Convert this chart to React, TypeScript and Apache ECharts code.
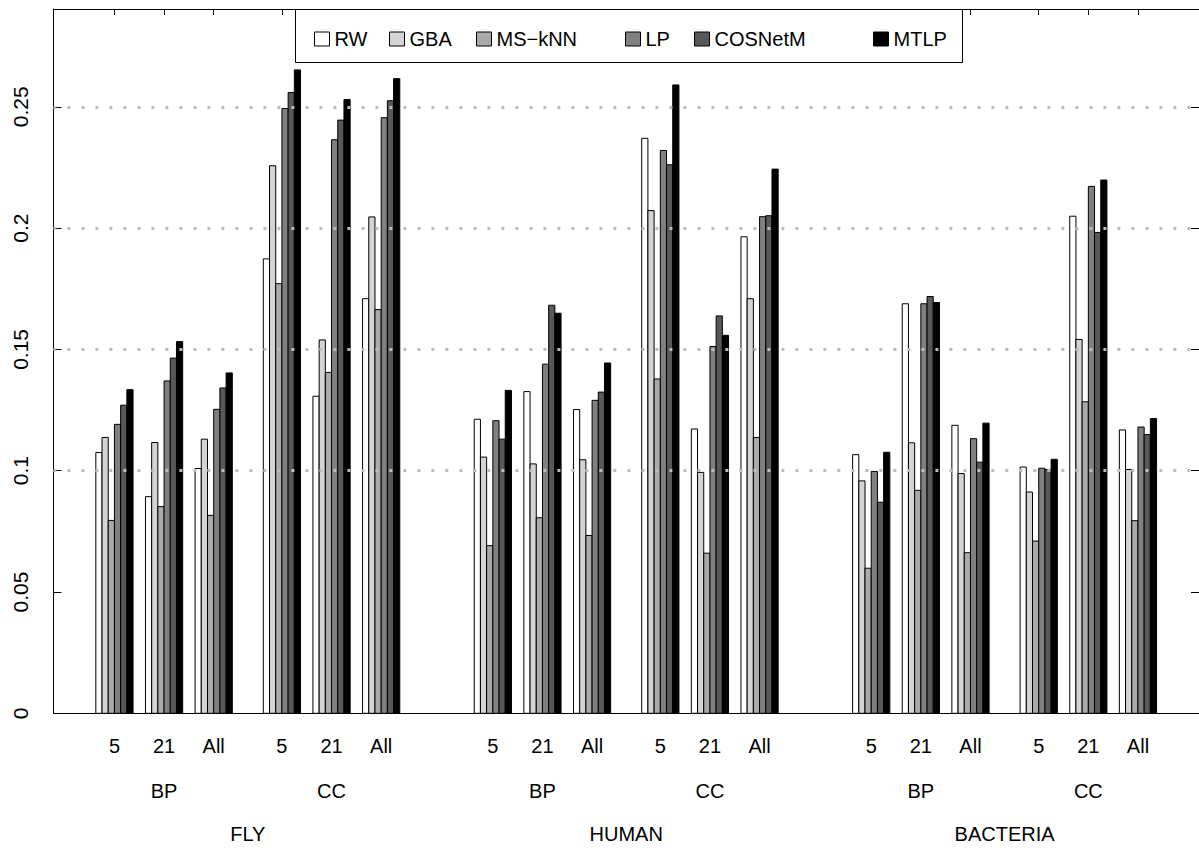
import React, { useEffect, useRef } from "react";
import * as echarts from "echarts";

const organisms = ["FLY", "HUMAN", "BACTERIA"];
const ontologies = ["BP", "CC"];
const subsets = ["5", "21", "All"];
const methods = ["RW", "GBA", "MS\u2212kNN", "LP", "COSNetM", "MTLP"];

// order: FLY BP(5,21,All) CC(5,21,All), HUMAN BP.. CC.., BACTERIA BP.. CC..
const RW = [0.1075, 0.0893, 0.1009, 0.1873, 0.1307, 0.1709, 0.1212, 0.1326, 0.1252, 0.2370, 0.1172, 0.1964, 0.1066, 0.1688, 0.1187, 0.1015, 0.2049, 0.1168];
const GBA = [0.1137, 0.1116, 0.1130, 0.2257, 0.1539, 0.2046, 0.1056, 0.1028, 0.1045, 0.2072, 0.0993, 0.1709, 0.0958, 0.1115, 0.0988, 0.0912, 0.1541, 0.1005];
const MSKNN = [0.0795, 0.0852, 0.0816, 0.1771, 0.1405, 0.1664, 0.0691, 0.0806, 0.0733, 0.1378, 0.0660, 0.1137, 0.0598, 0.0919, 0.0662, 0.0710, 0.1284, 0.0794];
const LP = [0.1191, 0.1370, 0.1253, 0.2493, 0.2364, 0.2455, 0.1206, 0.1439, 0.1290, 0.2320, 0.1512, 0.2047, 0.0997, 0.1688, 0.1132, 0.1010, 0.2172, 0.1180];
const COSNETM = [0.1270, 0.1464, 0.1341, 0.2559, 0.2445, 0.2525, 0.1130, 0.1682, 0.1324, 0.2261, 0.1638, 0.2051, 0.0870, 0.1718, 0.1035, 0.1005, 0.1982, 0.1149];
const MTLP = [0.1334, 0.1532, 0.1403, 0.2652, 0.2530, 0.2616, 0.1331, 0.1649, 0.1444, 0.2590, 0.1558, 0.2243, 0.1076, 0.1693, 0.1196, 0.1047, 0.2198, 0.1215];
const seriesValues = [RW, GBA, MSKNN, LP, COSNETM, MTLP];

const yTicks = [0, 0.05, 0.1, 0.15, 0.2, 0.25];
const gridValues = [0.1, 0.15, 0.2, 0.25];

const colors = ["#ffffff", "#d4d4d4", "#aaaaaa", "#808080", "#585858", "#000000"];
const legendLefts = [314, 389, 476, 625, 694, 873];
const FONT = "Liberation Sans, Arial, Helvetica, sans-serif";

// layout in bar-width units
const NM = methods.length;
const GAP_SUB = 2;
const GAP_ONT = 5;
const GAP_ORG = 12;
const SUB_W = NM + GAP_SUB;
const ONT_W = subsets.length * NM + (subsets.length - 1) * GAP_SUB + GAP_ONT;
const ORG_W = ontologies.length * ONT_W - GAP_ONT + GAP_ORG;

const subStart = (k: number) => {
  const s = k % 3;
  const t = Math.floor(k / 3) % 2;
  const o = Math.floor(k / 6);
  return o * ORG_W + t * ONT_W + s * SUB_W;
};
const totalSpan = (organisms.length - 1) * ORG_W + ORG_W - GAP_ORG;
const pad = totalSpan * 0.04;
const X_MIN = -pad;
const X_MAX = totalSpan + pad;

const subCenters: number[] = [];
const subLabels: string[] = [];
const ontCenters: number[] = [];
const ontLabels: string[] = [];
const orgCenters: number[] = [];
const orgLabels: string[] = [];
organisms.forEach((org, o) => {
  orgCenters.push(o * ORG_W + (ORG_W - GAP_ORG) / 2);
  orgLabels.push(org);
  ontologies.forEach((ont, t) => {
    const k0 = o * 6 + t * 3;
    ontCenters.push(subStart(k0) + (subsets.length * NM + (subsets.length - 1) * GAP_SUB) / 2);
    ontLabels.push(ont);
    subsets.forEach((sub, s) => {
      subCenters.push(subStart(k0 + s) + NM / 2);
      subLabels.push(sub);
    });
  });
});

const nearest = (centers: number[], labels: string[]) => (v: number) => {
  let bi = 0;
  let bd = Infinity;
  centers.forEach((c, i) => {
    const d = Math.abs(c - v);
    if (d < bd) {
      bd = d;
      bi = i;
    }
  });
  return labels[bi];
};

export default function App() {
  const ref = useRef<HTMLDivElement>(null);
  useEffect(() => {
    if (!ref.current) return;
    const chart = echarts.init(ref.current, null, { renderer: "svg" });
    const labelBase = { color: "#000", fontFamily: FONT, fontSize: 20, lineHeight: 20 };
    const series: any[] = methods.map((name, m) => ({
      type: "custom",
      name,
      xAxisIndex: 0,
      yAxisIndex: 0,
      encode: { x: 0, y: 1 },
      itemStyle: { color: colors[m], borderColor: "#000", borderWidth: 1 },
      data: seriesValues[m].map((v, k) => [subStart(k) + m, v]),
      renderItem: (params: any, api: any) => {
        const x0 = api.value(0);
        const v = api.value(1);
        const p0 = api.coord([x0, v]);
        const p1 = api.coord([x0 + 1, 0]);
        return {
          type: "rect",
          shape: { x: p0[0], y: p0[1], width: p1[0] - p0[0], height: p1[1] - p0[1] },
          style: { fill: colors[m], stroke: "#000", lineWidth: 1 },
        };
      },
      z: 2,
    }));
    series.push({
      type: "line",
      name: "grid",
      data: [],
      z: 6,
      markLine: {
        silent: true,
        symbol: "none",
        label: { show: false },
        lineStyle: { color: "#bcbcbc", type: [3, 11], width: 3 },
        data: gridValues.map((v) => ({ yAxis: v })),
      },
    });
    chart.setOption({
      animation: false,
      backgroundColor: "#fff",
      textStyle: { fontFamily: FONT },
      grid: { left: 53.4, right: -4.6, top: 9, bottom: 137.7, containLabel: false },
      legend: methods.map((name, i) => ({
        data: [name],
        left: legendLefts[i],
        top: 29,
        itemWidth: 15,
        itemHeight: 14,
        icon: "rect",
        padding: 0,
        selectedMode: false,
        itemStyle: { borderColor: "#000", borderWidth: 1 },
        textStyle: { fontSize: 20, color: "#000", fontFamily: FONT },
        z: 20,
      })),
      graphic: [
        {
          type: "rect",
          z: 15,
          shape: { x: 295.5, y: 9.5, width: 667, height: 53 },
          style: { fill: "#fff", stroke: "#000", lineWidth: 1 },
        },
      ],
      xAxis: [
        {
          type: "value",
          min: X_MIN,
          max: X_MAX,
          position: "bottom",
          axisLine: { show: true, onZero: false, lineStyle: { color: "#000", width: 1 } },
          axisTick: { show: false },
          splitLine: { show: false },
          axisLabel: { ...labelBase, margin: 23, customValues: subCenters, formatter: nearest(subCenters, subLabels) },
        },
        {
          type: "value",
          min: X_MIN,
          max: X_MAX,
          position: "bottom",
          offset: 45,
          axisLine: { show: false },
          axisTick: { show: false },
          splitLine: { show: false },
          axisLabel: { ...labelBase, margin: 23, customValues: ontCenters, formatter: nearest(ontCenters, ontLabels) },
        },
        {
          type: "value",
          min: X_MIN,
          max: X_MAX,
          position: "bottom",
          offset: 88,
          axisLine: { show: false },
          axisTick: { show: false },
          splitLine: { show: false },
          axisLabel: { ...labelBase, margin: 23, customValues: orgCenters, formatter: nearest(orgCenters, orgLabels) },
        },
        {
          type: "value",
          min: X_MIN,
          max: X_MAX,
          position: "top",
          axisLine: { show: true, onZero: false, lineStyle: { color: "#000", width: 1 } },
          axisTick: { show: true, inside: true, length: 6, customValues: subCenters, lineStyle: { color: "#000", width: 1 } },
          axisLabel: { show: false },
          splitLine: { show: false },
        },
      ],
      yAxis: [
        {
          type: "value",
          min: 0,
          max: 0.2903,
          position: "left",
          axisLine: { show: true, onZero: false, lineStyle: { color: "#000", width: 1 } },
          axisTick: { show: true, inside: true, length: 8, customValues: yTicks, lineStyle: { color: "#000", width: 1 } },
          axisLabel: {
            color: "#000",
            fontFamily: FONT,
            fontSize: 21,
            margin: 22,
            rotate: 90,
            customValues: yTicks,
            formatter: (v: number) => String(v),
          },
          splitLine: { show: false },
        },
        {
          type: "value",
          min: 0,
          max: 0.2903,
          position: "right",
          axisLine: { show: true, onZero: false, lineStyle: { color: "#000", width: 1 } },
          axisTick: { show: true, inside: true, length: 8, customValues: yTicks, lineStyle: { color: "#000", width: 1 } },
          axisLabel: { show: false },
          splitLine: { show: false },
        },
      ],
      series,
    });
    return () => chart.dispose();
  }, []);
  return (
    <div
      ref={ref}
      style={{ position: "absolute", left: 0, top: 0, width: 1199, height: 851, background: "#fff" }}
    />
  );
}
